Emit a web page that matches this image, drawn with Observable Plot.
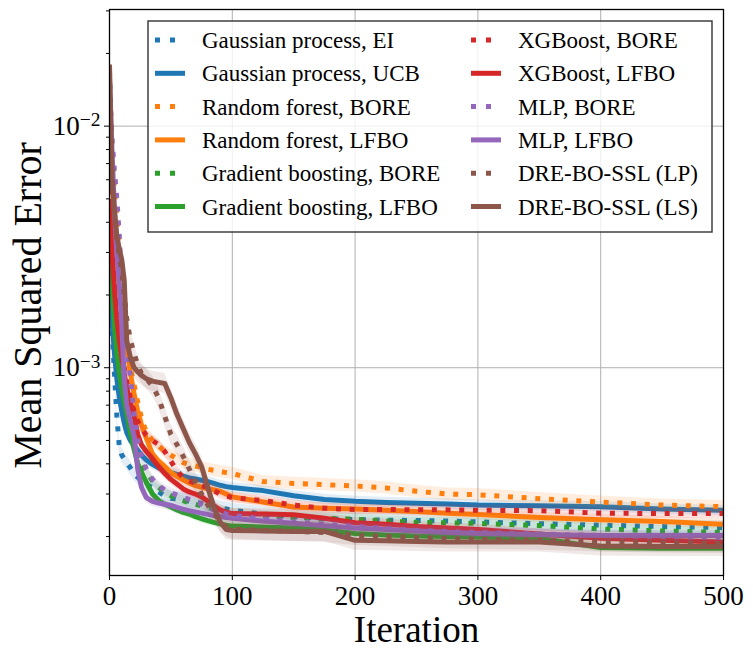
<!DOCTYPE html>
<html><head><meta charset="utf-8">
<script src="https://cdn.jsdelivr.net/npm/d3@7"></script>
<script src="https://cdn.jsdelivr.net/npm/@observablehq/plot@0.6"></script>
<style>body{margin:0;background:#fff}</style>
</head><body><div id="chart"></div>
<script>
const iterations = [0,2,4,6,8,10,12,14,17,20,23,26,30,35,40,45,50,55,60,65,70,75,80,85,90,95,100,125,150,175,200,225,250,275,300,350,400,450,500];

const gpEI = [2.4e-3,1.5e-3,9.5e-4,6.3e-4,4.7e-4,4.35e-4, 4.2e-4,4.05e-4,3.85e-4,3.65e-4,3.52e-4,3.4e-4,3.3e-4, 3.18e-4,3.06e-4,2.95e-4,2.88e-4,2.86e-4,2.84e-4,2.8e-4,2.77e-4,2.74e-4,2.7e-4,2.67e-4,2.63e-4,2.6e-4,2.57e-4, 2.48e-4,2.42e-4,2.37e-4,2.35e-4,2.34e-4,2.33e-4,2.32e-4,2.3e-4, 2.26e-4,2.23e-4,2.2e-4,2.18e-4];
const gpUCB = [2.2e-3,1.6e-3,1.15e-3,9e-4,7.5e-4,6.6e-4, 5.9e-4,5.4e-4,5.0e-4,4.75e-4,4.55e-4,4.35e-4,4.15e-4, 3.98e-4,3.85e-4,3.76e-4,3.68e-4,3.62e-4,3.56e-4,3.5e-4,3.46e-4,3.42e-4,3.38e-4,3.32e-4,3.26e-4,3.22e-4,3.19e-4, 3.1e-4,2.95e-4,2.85e-4,2.8e-4,2.77e-4,2.75e-4,2.73e-4,2.7e-4, 2.68e-4,2.66e-4,2.6e-4,2.57e-4];
const rfBORE = [1.3e-2,8e-3,5.5e-3,4.2e-3,3e-3,2.1e-3, 1.7e-3,1.35e-3,1.0e-3,8.5e-4,7.2e-4,6.2e-4,5.4e-4, 5.0e-4,4.75e-4,4.5e-4,4.35e-4,4.2e-4,4.05e-4,3.98e-4,3.92e-4,3.86e-4,3.8e-4,3.76e-4,3.72e-4,3.68e-4,3.65e-4, 3.38e-4,3.32e-4,3.28e-4,3.24e-4,3.18e-4,3.08e-4,3.0e-4,2.98e-4, 2.87e-4,2.78e-4,2.7e-4,2.66e-4];
const rfLFBO = [9e-3,6e-3,4e-3,2.8e-3,2.1e-3,1.7e-3, 1.4e-3,1.2e-3,9.5e-4,7.8e-4,6.6e-4,5.8e-4,5.1e-4, 4.4e-4,4.1e-4,3.9e-4,3.68e-4,3.55e-4,3.43e-4,3.33e-4,3.25e-4,3.2e-4,3.16e-4,3.12e-4,3.08e-4,3.0e-4,2.92e-4, 2.78e-4,2.65e-4,2.62e-4,2.6e-4,2.57e-4,2.54e-4,2.5e-4,2.47e-4, 2.4e-4,2.35e-4,2.31e-4,2.25e-4];
const gbBORE = [4e-3,2.5e-3,1.7e-3,1.3e-3,1.05e-3,8.8e-4, 7.6e-4,6.6e-4,5.6e-4,4.9e-4,4.4e-4,4.0e-4,3.7e-4, 3.4e-4,3.2e-4,3.05e-4,2.95e-4,2.88e-4,2.82e-4,2.76e-4,2.72e-4,2.68e-4,2.64e-4,2.6e-4,2.56e-4,2.53e-4,2.5e-4, 2.44e-4,2.4e-4,2.38e-4,2.36e-4,2.32e-4,2.29e-4,2.28e-4,2.27e-4, 2.22e-4,2.15e-4,2.11e-4,2.08e-4];
const gbLFBO = [3.5e-3,2.2e-3,1.5e-3,1.15e-3,9.5e-4,8.2e-4, 7.2e-4,6.4e-4,5.4e-4,4.6e-4,4.0e-4,3.7e-4,3.35e-4, 3.0e-4,2.82e-4,2.72e-4,2.65e-4,2.58e-4,2.52e-4,2.48e-4,2.42e-4,2.37e-4,2.33e-4,2.29e-4,2.26e-4,2.23e-4,2.21e-4, 2.19e-4,2.17e-4,2.13e-4,2.06e-4,2.03e-4,2.01e-4,2.0e-4,1.99e-4, 1.97e-4,1.8e-4,1.79e-4,1.79e-4];
const xgbBORE = [5.5e-3,3.2e-3,2.3e-3,1.7e-3,1.35e-3,1.15e-3, 1.0e-3,8.8e-4,7.5e-4,6.6e-4,6.0e-4,5.6e-4,5.25e-4, 5.0e-4,4.8e-4,4.5e-4,4.1e-4,3.75e-4,3.5e-4,3.4e-4,3.32e-4,3.25e-4,3.2e-4,3.1e-4,3.0e-4,2.94e-4,2.9e-4, 2.82e-4,2.7e-4,2.62e-4,2.59e-4,2.59e-4,2.58e-4,2.58e-4,2.57e-4, 2.56e-4,2.5e-4,2.49e-4,2.49e-4];
const xgbLFBO = [5e-3,3.0e-3,2.1e-3,1.6e-3,1.3e-3,1.1e-3, 9.5e-4,8.3e-4,7.2e-4,6.3e-4,5.3e-4,4.8e-4,4.5e-4, 4.2e-4,3.9e-4,3.65e-4,3.45e-4,3.3e-4,3.15e-4,3.06e-4,3.0e-4,2.92e-4,2.8e-4,2.68e-4,2.58e-4,2.52e-4,2.49e-4, 2.48e-4,2.46e-4,2.38e-4,2.28e-4,2.25e-4,2.2e-4,2.17e-4,2.14e-4, 2.05e-4,1.97e-4,1.93e-4,1.9e-4];
const mlpBORE = [1.5e-2,9e-3,6.5e-3,5e-3,3.5e-3,2.2e-3, 1.6e-3,1.25e-3,9e-4,6.5e-4,5.0e-4,4.3e-4,3.8e-4, 3.45e-4,3.25e-4,3.12e-4,3.04e-4,2.97e-4,2.9e-4,2.85e-4,2.8e-4,2.72e-4,2.65e-4,2.58e-4,2.52e-4,2.48e-4,2.45e-4, 2.36e-4,2.3e-4,2.25e-4,2.2e-4,2.16e-4,2.12e-4,2.1e-4,2.08e-4, 2.05e-4,2.02e-4,2.0e-4,1.98e-4];
const mlpLFBO = [1.6e-2,8e-3,4.5e-3,3.0e-3,2.2e-3,1.5e-3, 9e-4,7e-4,6e-4,5.2e-4,3.8e-4,3.2e-4,2.9e-4, 2.8e-4,2.75e-4,2.72e-4,2.69e-4,2.64e-4,2.6e-4,2.56e-4,2.53e-4,2.5e-4,2.47e-4,2.44e-4,2.42e-4,2.4e-4,2.38e-4, 2.32e-4,2.27e-4,2.22e-4,2.17e-4,2.14e-4,2.11e-4,2.08e-4,2.06e-4, 2.04e-4,2.02e-4,2.02e-4,2.02e-4];
const dreLP = [1.7e-2,6.5e-3,4.4e-3,3.4e-3,2.9e-3,2.5e-3, 2.0e-3,1.6e-3,1.3e-3,1.15e-3,1.02e-3,9.5e-4,9.0e-4, 8.4e-4,7.5e-4,6.3e-4,5.3e-4,4.8e-4,4.3e-4,3.8e-4,3.35e-4,3.0e-4,2.7e-4,2.5e-4,2.32e-4,2.2e-4,2.15e-4, 2.12e-4,2.1e-4,2.08e-4,2.02e-4,2.0e-4,1.98e-4,1.96e-4,1.95e-4, 1.93e-4,1.9e-4,1.88e-4,1.87e-4];
const dreLS = [1.8e-2,6e-3,4.5e-3,3.5e-3,3.1e-3,2.8e-3, 2.3e-3,1.3e-3,1.1e-3,1.0e-3,9.6e-4,9.3e-4,9.0e-4, 8.8e-4,8.7e-4,8.6e-4,7.5e-4,6.4e-4,5.6e-4,4.9e-4,4.4e-4,3.9e-4,3.2e-4,2.65e-4,2.3e-4,2.14e-4,2.12e-4, 2.11e-4,2.1e-4,2.1e-4,1.93e-4,1.92e-4,1.91e-4,1.9e-4,1.9e-4, 1.9e-4,1.83e-4,1.82e-4,1.82e-4];

const seriesNames = ["Gaussian process, EI","Gaussian process, UCB","Random forest, BORE","Random forest, LFBO","Gradient boosting, BORE","Gradient boosting, LFBO","XGBoost, BORE","XGBoost, LFBO","MLP, BORE","MLP, LFBO","DRE-BO-SSL (LP)","DRE-BO-SSL (LS)"];
const seriesValues = [gpEI,gpUCB,rfBORE,rfLFBO,gbBORE,gbLFBO,xgbBORE,xgbLFBO,mlpBORE,mlpLFBO,dreLP,dreLS];
const seriesSpread = [0.07,0.05,0.06,0.05,0.05,0.04,0.05,0.05,0.05,0.05,0.1,0.1];
const seriesColors = ["#1f77b4","#1f77b4","#ff7f0e","#ff7f0e","#2ca02c","#2ca02c","#d62728","#d62728","#9467bd","#9467bd","#8c564b","#8c564b"];
const seriesDotted = [true,false,true,false,true,false,true,false,true,false,true,false];

const xTicks = [0,100,200,300,400,500];
const yMajorTicks = [1e-3,1e-2];
const yMinorTicks = [2e-4,3e-4,4e-4,5e-4,6e-4,7e-4,8e-4,9e-4,2e-3,3e-3,4e-3,5e-3,6e-3,7e-3,8e-3,9e-3,2e-2,3e-2];

const rows = seriesNames.flatMap((name,k)=>iterations.map((it,j)=>({
  k, name, iter: it, v: seriesValues[k][j],
  lo: seriesValues[k][j]/(1+seriesSpread[k]), hi: seriesValues[k][j]*(1+seriesSpread[k])
})));

const marks = [
  Plot.gridX(xTicks,{stroke:"#b0b0b0",strokeOpacity:1,strokeWidth:1}),
  Plot.gridY(yMajorTicks,{stroke:"#b0b0b0",strokeOpacity:1,strokeWidth:1})
];
seriesNames.forEach((name,k)=>{
  const d = rows.filter(r=>r.k===k);
  marks.push(Plot.areaY(d,{x:"iter",y1:"lo",y2:"hi",fill:seriesColors[k],fillOpacity:0.13,clip:true}));
  marks.push(Plot.line(d,{x:"iter",y:"v",stroke:seriesColors[k],strokeWidth:5,
    strokeDasharray: seriesDotted[k] ? "5,8.7" : null, strokeLinecap:"butt", strokeLinejoin:"round", clip:true}));
});
marks.push(Plot.frame({stroke:"black",strokeWidth:1.3}));
marks.push(Plot.axisX(xTicks,{tickSize:5,tickPadding:5,fontSize:27,label:null}));
marks.push(Plot.axisY(yMinorTicks,{tickSize:3,tickFormat:()=>"",label:null}));
marks.push(Plot.axisY(yMajorTicks,{tickSize:5,tickPadding:4,fontSize:27,label:null,
  tickFormat:d=>"10^"+Math.round(Math.log10(d))}));
marks.push(Plot.text(["Iteration"],{frameAnchor:"bottom",lineAnchor:"middle",textAnchor:"middle",dy:55,fontSize:37}));
marks.push(Plot.text(["Mean Squared Error"],{frameAnchor:"left",lineAnchor:"middle",textAnchor:"middle",rotate:-90,dx:-81,dy:13,fontSize:40}));

const chart = Plot.plot({
  width:753, height:658,
  marginLeft:109, marginRight:30, marginTop:9, marginBottom:83,
  style:{fontFamily:"Liberation Serif",background:"white",color:"black"},
  x:{domain:[0,500]},
  y:{type:"log",domain:[1.38e-4,0.0304]},
  marks
});
document.getElementById("chart").appendChild(chart);

// superscript exponents on the y tick labels
const svg = d3.select(chart);
svg.selectAll('g[aria-label="y-axis tick label"] text').each(function(){
  const t = this.textContent;
  if(!t.includes("^")) return;
  const [base,exp] = t.split("^");
  const el = d3.select(this);
  el.text(null);
  el.append("tspan").text(base);
  el.append("tspan").attr("dy","-0.45em").attr("font-size","0.72em").text(exp.replace("-","\u2212"));
});

// legend
const lg = svg.append("g").attr("font-family","Liberation Serif").attr("font-size",23).attr("text-anchor","start");
lg.append("rect").attr("x",148).attr("y",21).attr("width",564).attr("height",211)
  .attr("fill","white").attr("fill-opacity",0.8).attr("stroke","#333").attr("stroke-width",1.4);
seriesNames.forEach((name,k)=>{
  const col = k<6 ? 0 : 1;
  const row = k%6;
  const y = 40 + row*33.3;
  const x0 = col===0 ? 155 : 471;
  lg.append("line").attr("x1",x0).attr("x2",x0+30).attr("y1",y).attr("y2",y)
    .attr("stroke",seriesColors[k]).attr("stroke-width",5)
    .attr("stroke-dasharray",seriesDotted[k]?"5,10":null);
  lg.append("text").attr("x",x0+47).attr("y",y+8).attr("text-anchor","start").attr("fill","black").text(name);
});
</script>
</body></html>
